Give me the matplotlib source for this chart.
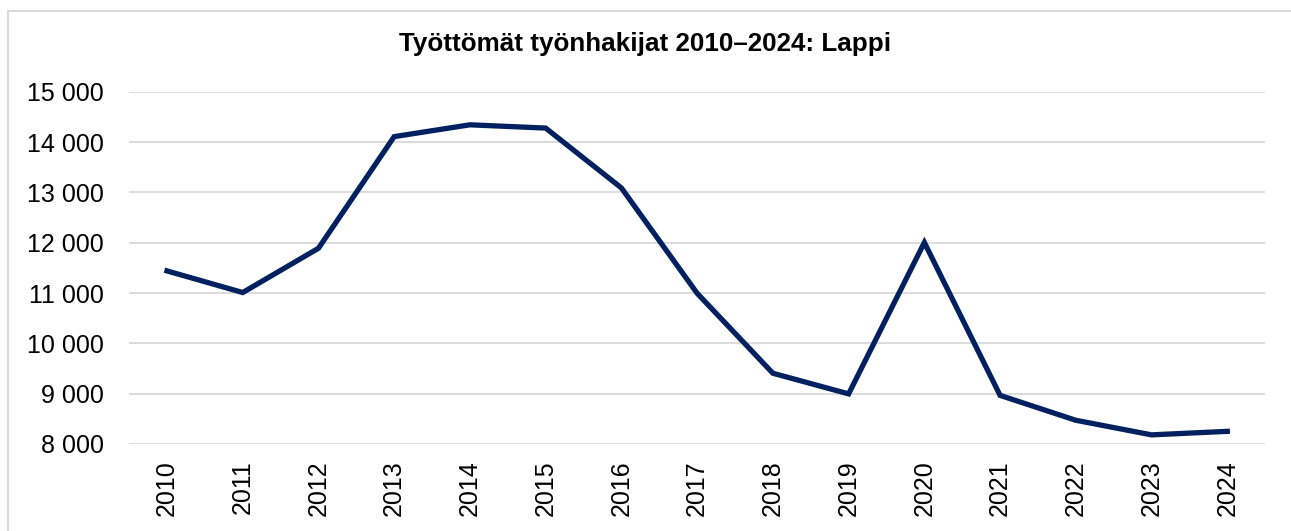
import matplotlib.pyplot as plt
from matplotlib.patches import Rectangle
from matplotlib.ticker import FuncFormatter

plt.rcParams['font.family'] = ['Liberation Sans', 'DejaVu Sans']

years = ['2010', '2011', '2012', '2013', '2014', '2015', '2016', '2017',
         '2018', '2019', '2020', '2021', '2022', '2023', '2024']
values = [11440, 11010, 11890, 14110, 14345, 14280, 13090, 10995,
          9405, 8995, 12005, 8965, 8470, 8180, 8250]

fig = plt.figure(figsize=(12.91, 5.31), dpi=100)
ax = fig.add_axes([0.1, 0.164, 0.88, 0.663])

x = list(range(len(years)))
ax.plot(x, values, color='#002060', linewidth=3.8, solid_joinstyle='miter')

ax.set_xlim(-0.5, len(years) - 0.5)
ax.set_ylim(8000, 15000)
ax.set_yticks(range(8000, 15001, 1000))
ax.yaxis.set_major_formatter(FuncFormatter(lambda v, p: f"{int(v):,}".replace(',', ' ')))
ax.set_xticks(x)
ax.set_xticklabels(years, rotation=90)
ax.tick_params(axis='both', length=0, labelsize=18)
ax.tick_params(axis='x', pad=12)
ax.tick_params(axis='y', pad=18)
ax.grid(axis='y', color='#d9d9d9', linewidth=1.3)
ax.set_axisbelow(True)
for s in ax.spines.values():
    s.set_visible(False)

fig.text(0.5, 0.918, 'Työttömät työnhakijat 2010–2024: Lappi', ha='center', va='center',
         fontsize=18.7, fontweight='bold')

fig.patches.append(Rectangle((0.006, -0.01), 1.1, 0.99, transform=fig.transFigure,
                             fill=False, edgecolor='#d9d9d9', linewidth=1.5))

fig.savefig('out.png', dpi=100)
